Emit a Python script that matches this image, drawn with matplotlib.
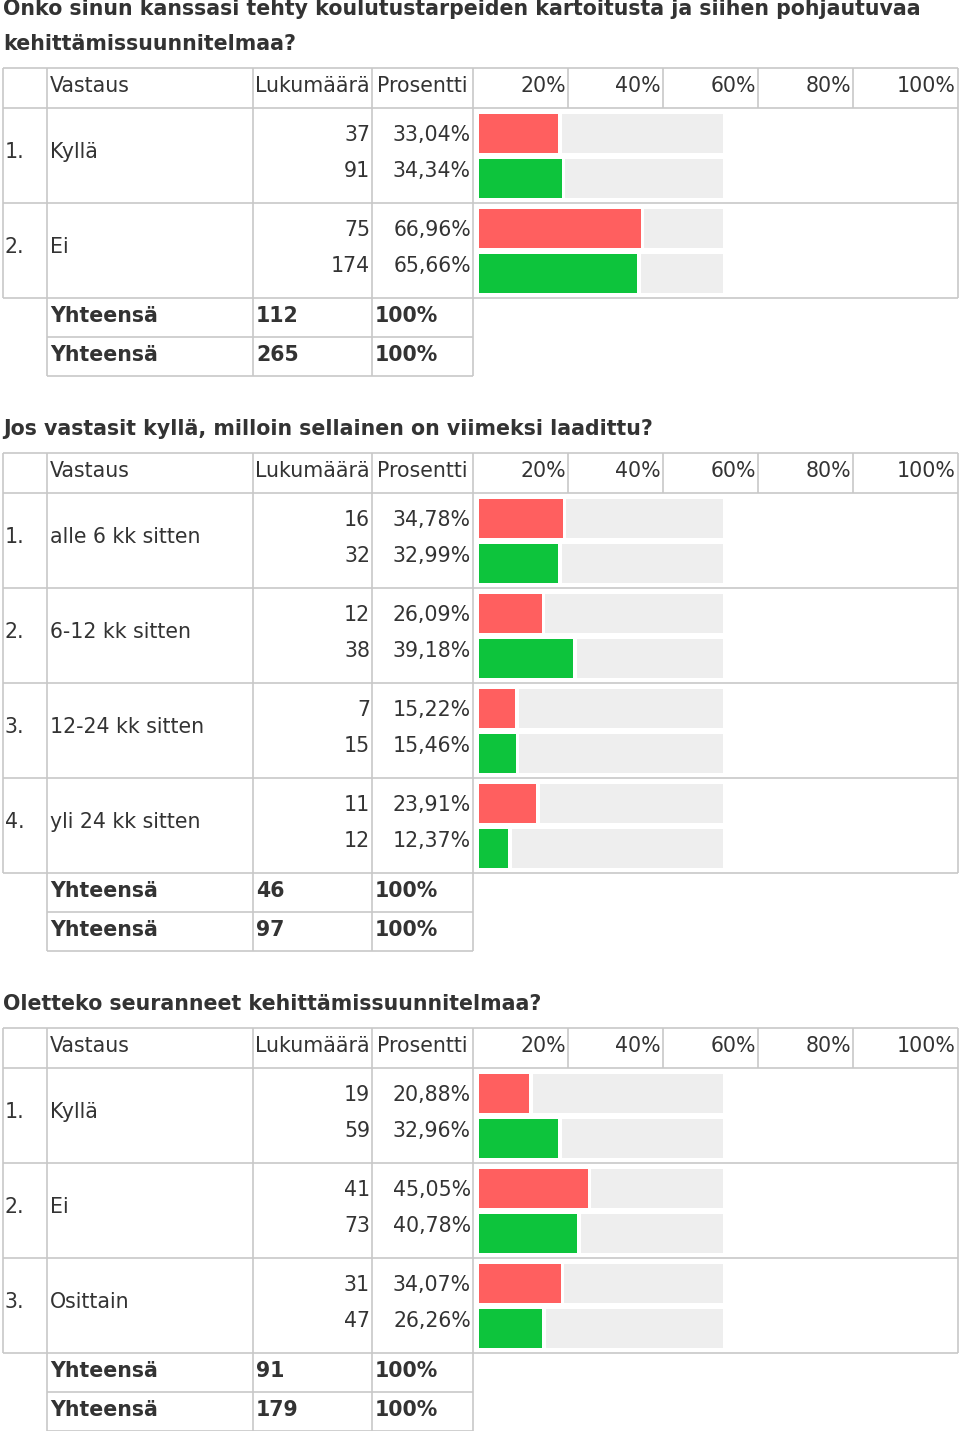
"""
Survey result tables: three questions, two respondent groups each (red / green bars).
Rendered on a pixel-coordinate axes so the table grid lines up with the bars.
"""
import matplotlib
matplotlib.use("Agg")
import matplotlib.pyplot as plt

# ---- data -------------------------------------------------------------
q1_title = ["Onko sinun kanssasi tehty koulutustarpeiden kartoitusta ja siihen pohjautuvaa",
            "kehittämissuunnitelmaa?"]
q1_answers = ["Kyllä", "Ei"]
q1_n_red = [37, 75]
q1_p_red = [33.04, 66.96]
q1_n_green = [91, 174]
q1_p_green = [34.34, 65.66]
q1_totals = [112, 265]

q2_title = ["Jos vastasit kyllä, milloin sellainen on viimeksi laadittu?"]
q2_answers = ["alle 6 kk sitten", "6-12 kk sitten", "12-24 kk sitten", "yli 24 kk sitten"]
q2_n_red = [16, 12, 7, 11]
q2_p_red = [34.78, 26.09, 15.22, 23.91]
q2_n_green = [32, 38, 15, 12]
q2_p_green = [32.99, 39.18, 15.46, 12.37]
q2_totals = [46, 97]

q3_title = ["Oletteko seuranneet kehittämissuunnitelmaa?"]
q3_answers = ["Kyllä", "Ei", "Osittain"]
q3_n_red = [19, 41, 31]
q3_p_red = [20.88, 45.05, 34.07]
q3_n_green = [59, 73, 47]
q3_p_green = [32.96, 40.78, 26.26]
q3_totals = [91, 179]

header = ["Vastaus", "Lukumäärä", "Prosentti"]
scale_labels = ["20%", "40%", "60%", "80%", "100%"]

# ---- style ------------------------------------------------------------
TXT = "#333333"
GRID = "#c8c8c8"
RED = "#ff5f5f"
GREEN = "#0dc43c"
TRACK = "#eeeeee"
FS = 14.8
FS_TITLE = 14.8

COLS = [3, 47, 253, 372, 473, 958]
SCALE_COLS = [473, 568, 663, 758, 853, 958]
BAR_X0 = 478.5
BAR_FULL = 242.0   # px for 100 %
BAR_END = 723
HEAD_H, ROW_H, TOT_H = 40, 95, 39


def fmt_pct(p):
    return f"{p:.2f}".replace(".", ",") + "%"


def hline(ax, y, x0, x1):
    ax.plot([x0, x1], [y, y], color=GRID, lw=1.2, solid_capstyle="butt")


def vline(ax, x, y0, y1):
    ax.plot([x, x], [y0, y1], color=GRID, lw=1.2, solid_capstyle="butt")


def draw_section(ax, top, title, answers, n_red, p_red, n_green, p_green, totals):
    # title lines, baseline 18 px above the table
    for i, line in enumerate(title):
        ax.text(3, top - 18 - 35 * (len(title) - 1 - i), line, fontsize=FS_TITLE,
                fontweight="bold", color=TXT, va="baseline", ha="left")

    # header row
    y = top
    hline(ax, y, COLS[0], COLS[-1])
    for x in COLS[:4] + SCALE_COLS:
        vline(ax, x, y, y + HEAD_H)
    for x, lab in zip([50, 255, 377], header):
        ax.text(x, y + 24, lab, fontsize=FS, color=TXT, va="baseline", ha="left")
    for x, lab in zip(SCALE_COLS[1:], scale_labels):
        ax.text(x - 2, y + 24, lab, fontsize=FS, color=TXT, va="baseline", ha="right")
    y += HEAD_H

    # answer rows
    for i, ans in enumerate(answers):
        hline(ax, y, COLS[0], COLS[-1])
        for x in COLS:
            vline(ax, x, y, y + ROW_H)
        ax.text(5, y + 50, f"{i + 1}.", fontsize=FS, color=TXT, va="baseline")
        ax.text(50, y + 50, ans, fontsize=FS, color=TXT, va="baseline")
        for dy, n, p, col, bt in [(33, n_red[i], p_red[i], RED, 6),
                                  (69, n_green[i], p_green[i], GREEN, 51)]:
            ax.text(370, y + dy, str(n), fontsize=FS, color=TXT, va="baseline", ha="right")
            ax.text(471, y + dy, fmt_pct(p), fontsize=FS, color=TXT, va="baseline", ha="right")
            w = p / 100 * BAR_FULL
            ax.barh(y + bt + 19.5, w, left=BAR_X0, height=39, color=col, linewidth=0)
            gx = BAR_X0 + w + 3.5
            ax.barh(y + bt + 19.5, BAR_END - gx, left=gx, height=39, color=TRACK, linewidth=0)
        y += ROW_H
    hline(ax, y, COLS[0], COLS[-1])

    # totals rows
    for t in totals:
        for x in COLS[1:5]:
            vline(ax, x, y, y + TOT_H)
        ax.text(50, y + 24, "Yhteensä", fontsize=FS, fontweight="bold", color=TXT, va="baseline")
        ax.text(256, y + 24, str(t), fontsize=FS, fontweight="bold", color=TXT, va="baseline")
        ax.text(375, y + 24, "100%", fontsize=FS, fontweight="bold", color=TXT, va="baseline")
        y += TOT_H
        hline(ax, y, COLS[1], COLS[4])


fig = plt.figure(figsize=(9.6, 14.31), dpi=100)
ax = fig.add_axes([0, 0, 1, 1])
ax.set_xlim(0, 960)
ax.set_ylim(1431, 0)
ax.axis("off")

draw_section(ax, 68, q1_title, q1_answers, q1_n_red, q1_p_red, q1_n_green, q1_p_green, q1_totals)
draw_section(ax, 453, q2_title, q2_answers, q2_n_red, q2_p_red, q2_n_green, q2_p_green, q2_totals)
draw_section(ax, 1028, q3_title, q3_answers, q3_n_red, q3_p_red, q3_n_green, q3_p_green, q3_totals)

fig.savefig("out.png", dpi=100, facecolor="white")
